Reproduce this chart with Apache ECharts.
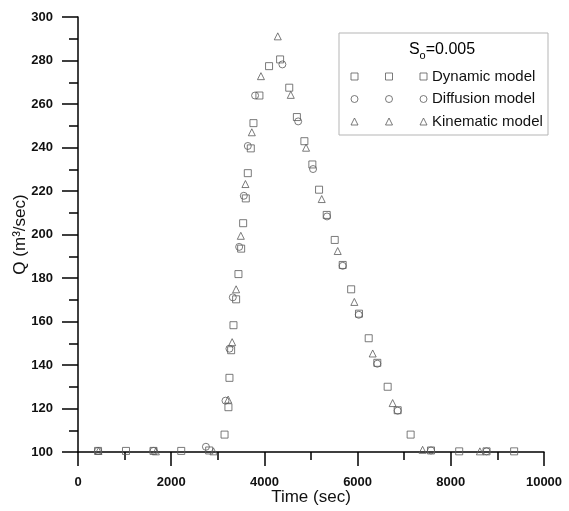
<!DOCTYPE html>
<html>
<head>
<meta charset="utf-8">
<script src="https://cdn.jsdelivr.net/npm/echarts@6/dist/echarts.min.js"></script>
<style>
  html, body { margin: 0; padding: 0; background: #fff; }
  #chart { width: 569px; height: 511px; }
</style>
</head>
<body>
<div id="chart"></div>
<script>
// Outflow hydrographs (time in s, discharge in m3/s) for bed slope So = 0.005
const dynamicModel = [
  [430, 100.5], [1030, 100.5], [1620, 100.5], [2215, 100.5], [2815, 100.7],
  [3145, 108.0], [3228, 120.6], [3250, 134.1], [3286, 146.8], [3336, 158.3],
  [3393, 170.2], [3443, 181.8], [3501, 193.5], [3544, 205.2], [3601, 216.6],
  [3644, 228.2], [3708, 239.6], [3765, 251.2], [3893, 263.9], [4100, 277.4],
  [4337, 280.5], [4533, 267.5], [4697, 254.0], [4858, 242.9], [5029, 232.2],
  [5173, 220.6], [5337, 209.0], [5509, 197.5], [5680, 186.0], [5862, 174.8],
  [6030, 163.6], [6238, 152.3], [6423, 141.0], [6645, 130.0], [6860, 119.2],
  [7138, 108.0], [7575, 100.7], [8180, 100.3], [8767, 100.3], [9359, 100.3]
];
const diffusionModel = [
  [430, 100.5], [1620, 100.5], [2745, 102.4], [3165, 123.6], [3250, 147.5],
  [3322, 171.1], [3458, 194.3], [3558, 217.8], [3644, 240.7], [3800, 263.9],
  [4386, 278.2], [4725, 252.0], [5044, 230.1], [5344, 208.3], [5680, 185.6],
  [6025, 163.1], [6423, 140.6], [6860, 119.0], [7575, 100.7], [8767, 100.3]
];
const kinematicModel = [
  [440, 100.5], [1672, 100.3], [2907, 100.3], [3222, 124.1], [3308, 150.5],
  [3393, 174.8], [3494, 199.4], [3593, 223.2], [3730, 247.0], [3926, 272.8],
  [4287, 291.1], [4566, 264.2], [4894, 239.9], [5230, 216.3], [5573, 192.4],
  [5930, 169.0], [6324, 145.3], [6752, 122.5], [7395, 101.0], [8624, 100.3]
];
const seriesNames = ['Dynamic model', 'Diffusion model', 'Kinematic model'];
const xTicks = { min: 0, max: 10000, step: 2000 };
const yTicks = { min: 100, max: 300, step: 20 };

const markerStroke = '#5a5a5a';
const markerStyle = { color: 'rgba(0,0,0,0)', borderColor: markerStroke, borderWidth: 1 };

// legend icons repeat each symbol three times, as in a line+symbol key
const legendIcons = [
  'path://M0 0H7V7H0Z M34.5 0H41.5V7H34.5Z M69 0H76V7H69Z',
  'path://M0 3.5A3.5 3.5 0 1 0 7 3.5A3.5 3.5 0 1 0 0 3.5Z M34.5 3.5A3.5 3.5 0 1 0 41.5 3.5A3.5 3.5 0 1 0 34.5 3.5Z M69 3.5A3.5 3.5 0 1 0 76 3.5A3.5 3.5 0 1 0 69 3.5Z',
  'path://M3.5 0L7 7H0Z M38 0L41.5 7H34.5Z M72.5 0L76 7H69Z'
];

const chart = echarts.init(document.getElementById('chart'), null, { renderer: 'canvas' });
const font = 'Liberation Sans, Arial, sans-serif';

const axisCommon = {
  splitLine: { show: false },
  axisLine: { show: true, onZero: false, lineStyle: { color: '#000', width: 1.5 } },
  axisTick: { show: true, inside: false, lineStyle: { color: '#000', width: 1.5 } },
  minorTick: { show: true, splitNumber: 2, lineStyle: { color: '#000', width: 1.5 } },
  axisLabel: {
    fontFamily: font, fontSize: 13, fontWeight: 'bold', color: '#111', margin: 25,
    formatter: v => String(v)
  },
  nameLocation: 'middle',
  nameMoveOverlap: false,
  nameTextStyle: { fontFamily: font, fontSize: 17, color: '#111' }
};

chart.setOption({
  animation: false,
  backgroundColor: '#fff',
  grid: { left: 78, right: 25, top: 17, bottom: 59, containLabel: false, outerBoundsMode: 'none' },
  xAxis: Object.assign({}, axisCommon, {
    type: 'value', min: xTicks.min, max: xTicks.max, interval: xTicks.step,
    name: 'Time (sec)', nameGap: 37,
    axisLabel: Object.assign({}, axisCommon.axisLabel, { margin: 24 }),
    axisTick: Object.assign({}, axisCommon.axisTick, { length: 14 }),
    minorTick: Object.assign({}, axisCommon.minorTick, { length: 8 })
  }),
  yAxis: Object.assign({}, axisCommon, {
    type: 'value', min: yTicks.min, max: yTicks.max, interval: yTicks.step,
    name: 'Q (m³/sec)', nameGap: 49,
    axisTick: Object.assign({}, axisCommon.axisTick, { length: 16 }),
    minorTick: Object.assign({}, axisCommon.minorTick, { length: 9 })
  }),
  legend: {
    orient: 'vertical',
    left: 345.5, top: 64,
    itemWidth: 76, itemHeight: 7, itemGap: 7.5,
    textStyle: { fontFamily: font, fontSize: 15, color: '#111' },
    itemStyle: markerStyle,
    data: seriesNames.map((n, i) => ({ name: n, icon: legendIcons[i] }))
  },
  graphic: [
    {
      type: 'rect', z: -1,
      shape: { x: 339, y: 33, width: 209, height: 102 },
      style: { fill: '#fff', stroke: '#b5b5b5', lineWidth: 1 }
    },
    {
      type: 'text', x: 442, y: 50,
      style: {
        text: '{a|S}{b|o}{a|=0.005}',
        align: 'center', verticalAlign: 'middle',
        rich: {
          a: { fontFamily: font, fontSize: 16, color: '#111', lineHeight: 22 },
          b: { fontFamily: font, fontSize: 11, color: '#111', lineHeight: 22, verticalAlign: 'bottom' }
        }
      }
    }
  ],
  series: [
    { name: seriesNames[0], type: 'scatter', symbol: 'rect', symbolSize: 7, data: dynamicModel, itemStyle: markerStyle },
    { name: seriesNames[1], type: 'scatter', symbol: 'circle', symbolSize: 7, data: diffusionModel, itemStyle: markerStyle },
    { name: seriesNames[2], type: 'scatter', symbol: 'triangle', symbolSize: 7, data: kinematicModel, itemStyle: markerStyle }
  ]
});
</script>
</body>
</html>
